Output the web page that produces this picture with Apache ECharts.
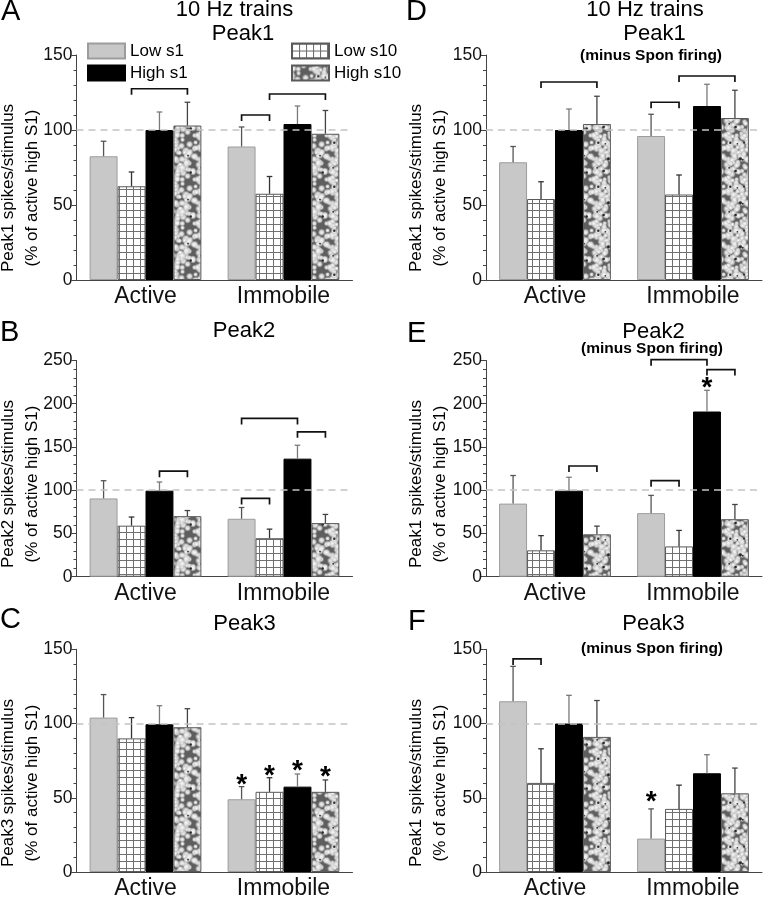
<!DOCTYPE html>
<html>
<head>
<meta charset="utf-8">
<script src="https://cdn.jsdelivr.net/npm/echarts@6/dist/echarts.min.js"></script>
<style>
html,body{margin:0;padding:0;background:#fff;}
#chart{width:763px;height:900px;}
</style>
</head>
<body>
<div id="chart"></div>
<script>
// ---------- data ----------
const categories = ['Active', 'Immobile'];
const groupNames = ['Low s1', 'Low s10', 'High s1', 'High s10'];

// Panel A: Peak1
const aLowS1 = [82.5, 89];     const aLowS1Err = [10, 13];
const aLowS10 = [62.5, 57.5];  const aLowS10Err = [9.5, 11.5];
const aHighS1 = [100, 104];    const aHighS1Err = [12, 12];
const aHighS10 = [103, 97.5];  const aHighS10Err = [15.5, 15.5];
const aBrackets = [[0, 1, 3, 127.5], [1, 0, 1, 110], [1, 1, 3, 124]];
const aStars = [];

// Panel B: Peak2
const bLowS1 = [90.5, 67];     const bLowS1Err = [20.5, 13];
const bLowS10 = [59, 44.5];    const bLowS10Err = [10, 10.5];
const bHighS1 = [99.5, 136.5]; const bHighS1Err = [10, 15.5];
const bHighS10 = [70, 62];     const bHighS10Err = [6.5, 10];
const bBrackets = [[0, 2, 3, 122], [1, 0, 1, 90.5], [1, 0, 2, 183], [1, 2, 3, 167.5]];
const bStars = [];

// Panel C: Peak3
const cLowS1 = [104, 49];      const cLowS1Err = [15.5, 8.5];
const cLowS10 = [90, 54];      const cLowS10Err = [14, 9.5];
const cHighS1 = [99.5, 57.5];  const cHighS1Err = [12.5, 8.5];
const cHighS10 = [97.5, 54];   const cHighS10Err = [12.5, 8];
const cBrackets = [];
const cStars = [[1, 0, 62], [1, 1, 68], [1, 2, 71], [1, 3, 67.5]];

// Panel D: Peak1 minus spontaneous firing
const dLowS1 = [78.5, 96];     const dLowS1Err = [10.5, 14.5];
const dLowS10 = [54, 57];      const dLowS10Err = [11.5, 13];
const dHighS1 = [100, 116];    const dHighS1Err = [14, 14.5];
const dHighS10 = [104, 108];   const dHighS10Err = [18.5, 18.5];
const dBrackets = [[0, 1, 3, 132], [1, 0, 1, 118.5], [1, 1, 3, 136]];
const dStars = [];

// Panel E: Peak2 minus spontaneous firing
const eLowS1 = [84.5, 73.5];   const eLowS1Err = [32.5, 20.5];
const eLowS10 = [30.5, 35];    const eLowS10Err = [17, 18.5];
const eHighS1 = [99.5, 191];   const eHighS1Err = [15.5, 24.5];
const eHighS10 = [49, 66.5];   const eHighS10Err = [9.5, 17];
const eBrackets = [[0, 2, 3, 128], [1, 0, 1, 111], [1, 0, 2, 251], [1, 2, 3, 239.5]];
const eStars = [[1, 2, 224]];

// Panel F: Peak3 minus spontaneous firing
const fLowS1 = [115, 22.5];    const fLowS1Err = [23.5, 20];
const fLowS10 = [60, 42.5];    const fLowS10Err = [23, 16];
const fHighS1 = [100, 66.5];   const fHighS1Err = [19, 12.5];
const fHighS10 = [91, 53];     const fHighS10Err = [24.5, 17];
const fBrackets = [[0, 0, 1, 143.5]];
const fStars = [[1, 0, 50]];

// ---------- patterns ----------
function makeGrid() {
  const S = 7, cv = document.createElement('canvas');
  cv.width = S; cv.height = S;
  const g = cv.getContext('2d');
  g.fillStyle = '#ffffff'; g.fillRect(0, 0, S, S);
  g.fillStyle = '#707070';
  g.fillRect(0, 0, S, 1); g.fillRect(0, 0, 1, S);
  return cv;
}
function makeTexture() {
  const S = 44, cv = document.createElement('canvas');
  cv.width = S; cv.height = S;
  const g = cv.getContext('2d');
  g.fillStyle = '#5e5e5e'; g.fillRect(0, 0, S, S);
  let s = 131;
  const rnd = () => { s = (s * 16807) % 2147483647; return s / 2147483647; };
  for (let i = 0; i < 130; i++) {
    const x = rnd() * S, y = rnd() * S, r = 2.6 + rnd() * 1.8;
    for (const dx of [-S, 0, S]) for (const dy of [-S, 0, S]) {
      const gr = g.createRadialGradient(x + dx, y + dy, 0, x + dx, y + dy, r);
      gr.addColorStop(0, 'rgba(252,252,252,0.97)');
      gr.addColorStop(0.5, 'rgba(225,225,225,0.85)');
      gr.addColorStop(1, 'rgba(160,160,160,0)');
      g.fillStyle = gr;
      g.beginPath(); g.arc(x + dx, y + dy, r, 0, Math.PI * 2); g.fill();
    }
  }
  for (let i = 0; i < 9; i++) {
    const x = rnd() * S, y = rnd() * S;
    g.fillStyle = 'rgba(15,15,15,0.85)';
    g.beginPath(); g.arc(x, y, 0.8 + rnd() * 0.7, 0, Math.PI * 2); g.fill();
  }
  return cv;
}
const gridPat = { image: makeGrid(), repeat: 'repeat' };
const texPat = { image: makeTexture(), repeat: 'repeat' };

const barStyles = [
  { color: '#c8c8c8', borderColor: '#9c9c9c', borderWidth: 1 },
  { color: gridPat, borderColor: '#5a5a5a', borderWidth: 1 },
  { color: '#000000', borderColor: '#000000', borderWidth: 1 },
  { color: texPat, borderColor: '#5a5a5a', borderWidth: 1 }
];
const errColors = ['#555555', '#333333', '#7a7a7a', '#444444'];

const FONT = '"Liberation Sans", Arial, Helvetica, sans-serif';
const GAPFRAC = 0.81;

// ---------- layout ----------
const grids = [
  { left: 76.5, top: 55, width: 276, height: 225 },
  { left: 76.5, top: 360.5, width: 276, height: 216.2 },
  { left: 76.5, top: 649.3, width: 276, height: 225 },
  { left: 486, top: 55, width: 276, height: 225 },
  { left: 486, top: 360.5, width: 276, height: 216.2 },
  { left: 486, top: 649.3, width: 276, height: 225 }
];
const yMax = [150, 250, 150, 150, 250, 150];

const panels = [
  { v: [aLowS1, aLowS10, aHighS1, aHighS10], e: [aLowS1Err, aLowS10Err, aHighS1Err, aHighS10Err], br: aBrackets, st: aStars },
  { v: [bLowS1, bLowS10, bHighS1, bHighS10], e: [bLowS1Err, bLowS10Err, bHighS1Err, bHighS10Err], br: bBrackets, st: bStars },
  { v: [cLowS1, cLowS10, cHighS1, cHighS10], e: [cLowS1Err, cLowS10Err, cHighS1Err, cHighS10Err], br: cBrackets, st: cStars },
  { v: [dLowS1, dLowS10, dHighS1, dHighS10], e: [dLowS1Err, dLowS10Err, dHighS1Err, dHighS10Err], br: dBrackets, st: dStars },
  { v: [eLowS1, eLowS10, eHighS1, eHighS10], e: [eLowS1Err, eLowS10Err, eHighS1Err, eHighS10Err], br: eBrackets, st: eStars },
  { v: [fLowS1, fLowS10, fHighS1, fHighS10], e: [fLowS1Err, fLowS10Err, fHighS1Err, fHighS10Err], br: fBrackets, st: fStars }
];

function barX(api, cat, bar) {
  const bw = api.size([1, 0])[0] * GAPFRAC / 4;
  const c = api.coord([cat, 0]);
  return c[0] + (bar - 1.5) * bw;
}
function errRender(params, api) {
  const cat = api.value(0), bar = api.value(1), mean = api.value(2), sem = api.value(3);
  const x = barX(api, cat, bar);
  const y0 = api.coord([cat, mean])[1];
  const y1 = api.coord([cat, mean + sem])[1];
  const st = { stroke: errColors[bar], lineWidth: 1.3 };
  return { type: 'group', children: [
    { type: 'line', shape: { x1: x, y1: y0, x2: x, y2: y1 }, style: st },
    { type: 'line', shape: { x1: x - 2.8, y1: y1, x2: x + 2.8, y2: y1 }, style: st }
  ] };
}
function bracketRender(params, api) {
  const cat = api.value(0), b1 = api.value(1), b2 = api.value(2), h = api.value(3);
  const x1 = barX(api, cat, b1), x2 = barX(api, cat, b2);
  const y = api.coord([cat, h])[1];
  return { type: 'polyline', shape: { points: [[x1, y + 6], [x1, y], [x2, y], [x2, y + 6]] },
    style: { stroke: '#111', lineWidth: 1.7, fill: null } };
}
function starRender(params, api) {
  const cat = api.value(0), bar = api.value(1), v = api.value(2);
  const x = barX(api, cat, bar);
  const y = api.coord([cat, v])[1];
  return { type: 'text', x: x, y: y + 5, style: { text: '*', fill: '#000', font: 'bold 28px ' + FONT, textAlign: 'center', textVerticalAlign: 'middle' } };
}

const xAxes = [], yAxes = [], series = [];
panels.forEach((p, i) => {
  xAxes.push({
    type: 'category', gridIndex: i, data: categories, boundaryGap: true,
    axisLine: { lineStyle: { color: '#444', width: 1 } },
    axisTick: { alignWithLabel: true, length: 5, lineStyle: { color: '#444' } },
    axisLabel: { fontSize: 23, color: '#111', fontFamily: FONT, margin: 5 }
  });
  yAxes.push({
    type: 'value', gridIndex: i, min: 0, max: yMax[i], interval: 50,
    axisLine: { show: true, lineStyle: { color: '#444', width: 1 } },
    axisTick: { show: true, length: 5, lineStyle: { color: '#444' } },
    minorTick: { show: true, splitNumber: 5, length: 3, lineStyle: { color: '#444' } },
    splitLine: { show: false },
    axisLabel: { fontSize: 17.5, color: '#111', fontFamily: FONT, margin: 4 }
  });
  for (let b = 0; b < 4; b++) {
    series.push({
      type: 'bar', name: groupNames[b], xAxisIndex: i, yAxisIndex: i,
      data: p.v[b], barGap: '0%', barCategoryGap: '19%',
      itemStyle: barStyles[b], z: 2, silent: true
    });
  }
  const errData = [];
  for (let b = 0; b < 4; b++) for (let c = 0; c < 2; c++) errData.push([c, b, p.v[b][c], p.e[b][c]]);
  series.push({
    type: 'custom', xAxisIndex: i, yAxisIndex: i, renderItem: errRender,
    data: errData, encode: { x: 0, y: 2 }, z: 3, silent: true,
    markLine: { silent: true, symbol: 'none', label: { show: false }, z: 4,
      lineStyle: { color: '#c4c4c4', type: [7, 5], width: 1.6 }, data: [{ yAxis: 100 }] }
  });
  if (p.br.length) series.push({
    type: 'custom', xAxisIndex: i, yAxisIndex: i, renderItem: bracketRender,
    data: p.br, encode: { x: 0, y: 3 }, z: 5, silent: true
  });
  if (p.st.length) series.push({
    type: 'custom', xAxisIndex: i, yAxisIndex: i, renderItem: starRender,
    data: p.st, encode: { x: 0, y: 2 }, z: 5, silent: true
  });
});

function txt(text, x, y, size, opts) {
  opts = opts || {};
  return { type: 'text', x: x, y: y, rotation: opts.rot || 0, silent: true,
    style: { text: text, fill: '#000', font: (opts.bold ? 'bold ' : '') + size + 'px ' + FONT,
      textAlign: opts.align || 'center', textVerticalAlign: 'middle', lineHeight: opts.lh || size } };
}
const yName = n => 'Peak' + n + ' spikes/stimulus\n(% of active high S1)';
const graphics = [
  txt('A', 1, 12, 29, { align: 'left' }),
  txt('B', 0, 332.5, 29, { align: 'left' }),
  txt('C', 0, 620, 29, { align: 'left' }),
  txt('D', 406, 12, 29, { align: 'left' }),
  txt('E', 407, 333.5, 29, { align: 'left' }),
  txt('F', 408, 621.5, 29, { align: 'left' }),
  txt('10 Hz trains', 234.5, 10, 22),
  txt('Peak1', 243, 34, 22),
  txt('Peak2', 244, 331, 22),
  txt('Peak3', 244.5, 624, 22),
  txt('10 Hz trains', 645, 10, 22),
  txt('Peak1', 654.5, 34, 22),
  txt('(minus Spon firing)', 651, 56, 15.5, { bold: true }),
  txt('Peak2', 653.5, 331.5, 22),
  txt('(minus Spon firing)', 652, 348.5, 15.5, { bold: true }),
  txt('Peak3', 653.5, 624, 22),
  txt('(minus Spon firing)', 652, 648.5, 15.5, { bold: true }),
  txt(yName(1), 20, 188, 17, { rot: Math.PI / 2, lh: 24 }),
  txt(yName(2), 20, 484, 17, { rot: Math.PI / 2, lh: 24 }),
  txt(yName(3), 20, 783, 17, { rot: Math.PI / 2, lh: 24 }),
  txt(yName(1), 428, 188, 17, { rot: Math.PI / 2, lh: 24 }),
  txt(yName(1), 428, 484, 17, { rot: Math.PI / 2, lh: 24 }),
  txt(yName(1), 428, 783, 17, { rot: Math.PI / 2, lh: 24 })
];

const chart = echarts.init(document.getElementById('chart'), null, { renderer: 'canvas' });
chart.setOption({
  animation: false,
  backgroundColor: '#fff',
  legend: [
    { data: ['Low s1', 'High s1'], orient: 'vertical', left: 82, top: 37.5, itemWidth: 37, itemHeight: 15, itemGap: 5,
      icon: 'rect', selectedMode: false, textStyle: { fontSize: 17, fontFamily: FONT, color: '#000', lineHeight: 16 } },
    { data: ['Low s10', 'High s10'], orient: 'vertical', left: 286, top: 37.5, itemWidth: 37, itemHeight: 15, itemGap: 5,
      icon: 'rect', selectedMode: false, textStyle: { fontSize: 17, fontFamily: FONT, color: '#000', lineHeight: 16 } }
  ],
  grid: grids,
  xAxis: xAxes,
  yAxis: yAxes,
  series: series,
  graphic: graphics
});
</script>
</body>
</html>
